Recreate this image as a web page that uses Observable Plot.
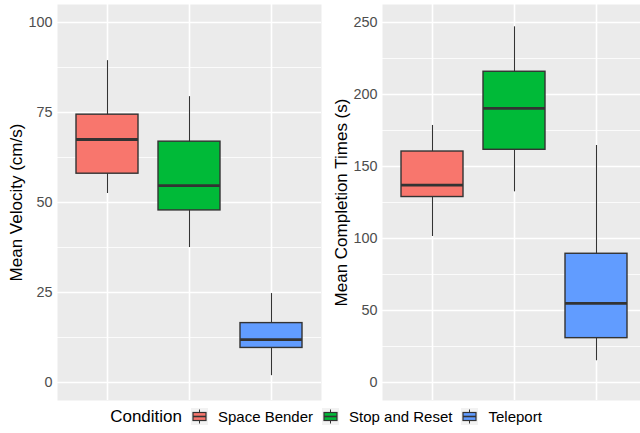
<!DOCTYPE html>
<html>
<head>
<meta charset="utf-8">
<script src="https://cdn.jsdelivr.net/npm/d3@7"></script>
<script src="https://cdn.jsdelivr.net/npm/@observablehq/plot@0.6"></script>
<style>
  html, body { margin: 0; padding: 0; background: #fff; }
  body { width: 640px; height: 433px; overflow: hidden; position: relative; font-family: "Liberation Sans", Arial, sans-serif; }
  .panel { position: absolute; top: 0; width: 325px; height: 404px; }
  .panel svg { max-width: none !important; }
  #legend { position: absolute; left: 0; top: 400px; width: 652px; height: 33px; display: flex; align-items: center; justify-content: center; font-size: 15px; color: #000; }
  #legend .title { font-size: 17px; margin-right: 9px; }
  #legend .key { width: 17px; height: 17px; margin-right: 10px; }
  #legend .lab { margin-right: 9px; }
  #legend .lab:last-child { margin-right: 0; }
</style>
</head>
<body>
<div id="left" class="panel" style="left:0px"></div>
<div id="right" class="panel" style="left:325px"></div>
<div id="legend"></div>
<script>
const conditions = ["Space Bender", "Stop and Reset", "Teleport"];
const colors = ["#F8766D", "#00BA38", "#619CFF"];

// Mean Velocity (cm/s)
const velLow = [52.5, 37.5, 1.9];
const velQ1 = [58.0, 47.8, 9.6];
const velMed = [67.5, 54.7, 11.9];
const velQ3 = [74.4, 66.9, 16.5];
const velHigh = [89.4, 79.4, 24.7];
const velTicks = [0, 25, 50, 75, 100];
const velMinor = [12.5, 37.5, 62.5, 87.5];

// Mean Completion Times (s)
const timeLow = [101.4, 132.4, 15.1];
const timeQ1 = [128.8, 161.6, 30.8];
const timeMed = [137.1, 190.3, 54.9];
const timeQ3 = [160.4, 215.8, 89.4];
const timeHigh = [178.5, 247.0, 164.6];
const timeTicks = [0, 50, 100, 150, 200, 250];
const timeMinor = [25, 75, 125, 175, 225];

const legendTitle = "Condition";

function rows(lo, q1, med, q3, hi) {
  return conditions.map((c, i) => ({cond: c, lo: lo[i], q1: q1[i], med: med[i], q3: q3[i], hi: hi[i]}));
}

function panel(data, ticks, minor, label) {
  const lo = d3.min(ticks), hi = d3.max(ticks);
  const pad = (hi - lo) * 0.05;
  return Plot.plot({
    width: 325,
    height: 404,
    marginLeft: 57,
    marginRight: 4,
    marginTop: 4,
    marginBottom: 4,
    style: {fontFamily: '"Liberation Sans", Arial, sans-serif', color: "#4D4D4D", background: "transparent", overflow: "visible", maxWidth: "none"},
    x: {domain: conditions, axis: null, paddingInner: 0.25, paddingOuter: 0.225},
    y: {domain: [lo - pad, hi + pad], axis: null},
    color: {domain: conditions, range: colors},
    marks: [
      Plot.frame({fill: "#EBEBEB", stroke: null}),
      Plot.ruleY(minor, {stroke: "white", strokeWidth: 0.8}),
      Plot.ruleY(ticks, {stroke: "white", strokeWidth: 1.6}),
      Plot.ruleX(conditions, {x: d => d, stroke: "white", strokeWidth: 1.6}),
      Plot.axisY(ticks, {tickSize: 0, tickPadding: 5, fontSize: 14.4, fill: "#4D4D4D", label: null}),
      Plot.text([label], {frameAnchor: "left", dx: -41, rotate: -90, text: d => d, fontSize: 17, fill: "#000", textAnchor: "middle"}),
      Plot.ruleX(data, {x: "cond", y1: "lo", y2: "hi", stroke: "#333333", strokeWidth: 1.1}),
      Plot.barY(data, {x: "cond", y1: "q1", y2: "q3", fill: "cond", stroke: "#333333", strokeWidth: 1.4}),
      Plot.tickY(data, {x: "cond", y: "med", stroke: "#333333", strokeWidth: 2.8})
    ]
  });
}

document.getElementById("left").appendChild(
  panel(rows(velLow, velQ1, velMed, velQ3, velHigh), velTicks, velMinor, "Mean Velocity (cm/s)"));
document.getElementById("right").appendChild(
  panel(rows(timeLow, timeQ1, timeMed, timeQ3, timeHigh), timeTicks, timeMinor, "Mean Completion Times (s)"));

// Legend
const legend = document.getElementById("legend");
const t = document.createElement("span");
t.className = "title";
t.textContent = legendTitle;
legend.appendChild(t);
const ns = "http://www.w3.org/2000/svg";
conditions.forEach((c, i) => {
  const svg = document.createElementNS(ns, "svg");
  svg.setAttribute("class", "key");
  svg.setAttribute("width", 17);
  svg.setAttribute("height", 17);
  svg.innerHTML =
    `<rect x="0" y="0" width="17" height="17" fill="#F2F2F2"/>` +
    `<line x1="8.5" x2="8.5" y1="1.5" y2="15.5" stroke="#333333" stroke-width="1"/>` +
    `<rect x="2" y="4.5" width="13" height="8" fill="${colors[i]}" stroke="#333333" stroke-width="1.2"/>` +
    `<line x1="2" x2="15" y1="8.5" y2="8.5" stroke="#333333" stroke-width="1.6"/>`;
  legend.appendChild(svg);
  const s = document.createElement("span");
  s.className = "lab";
  s.textContent = c;
  legend.appendChild(s);
});
</script>
</body>
</html>
